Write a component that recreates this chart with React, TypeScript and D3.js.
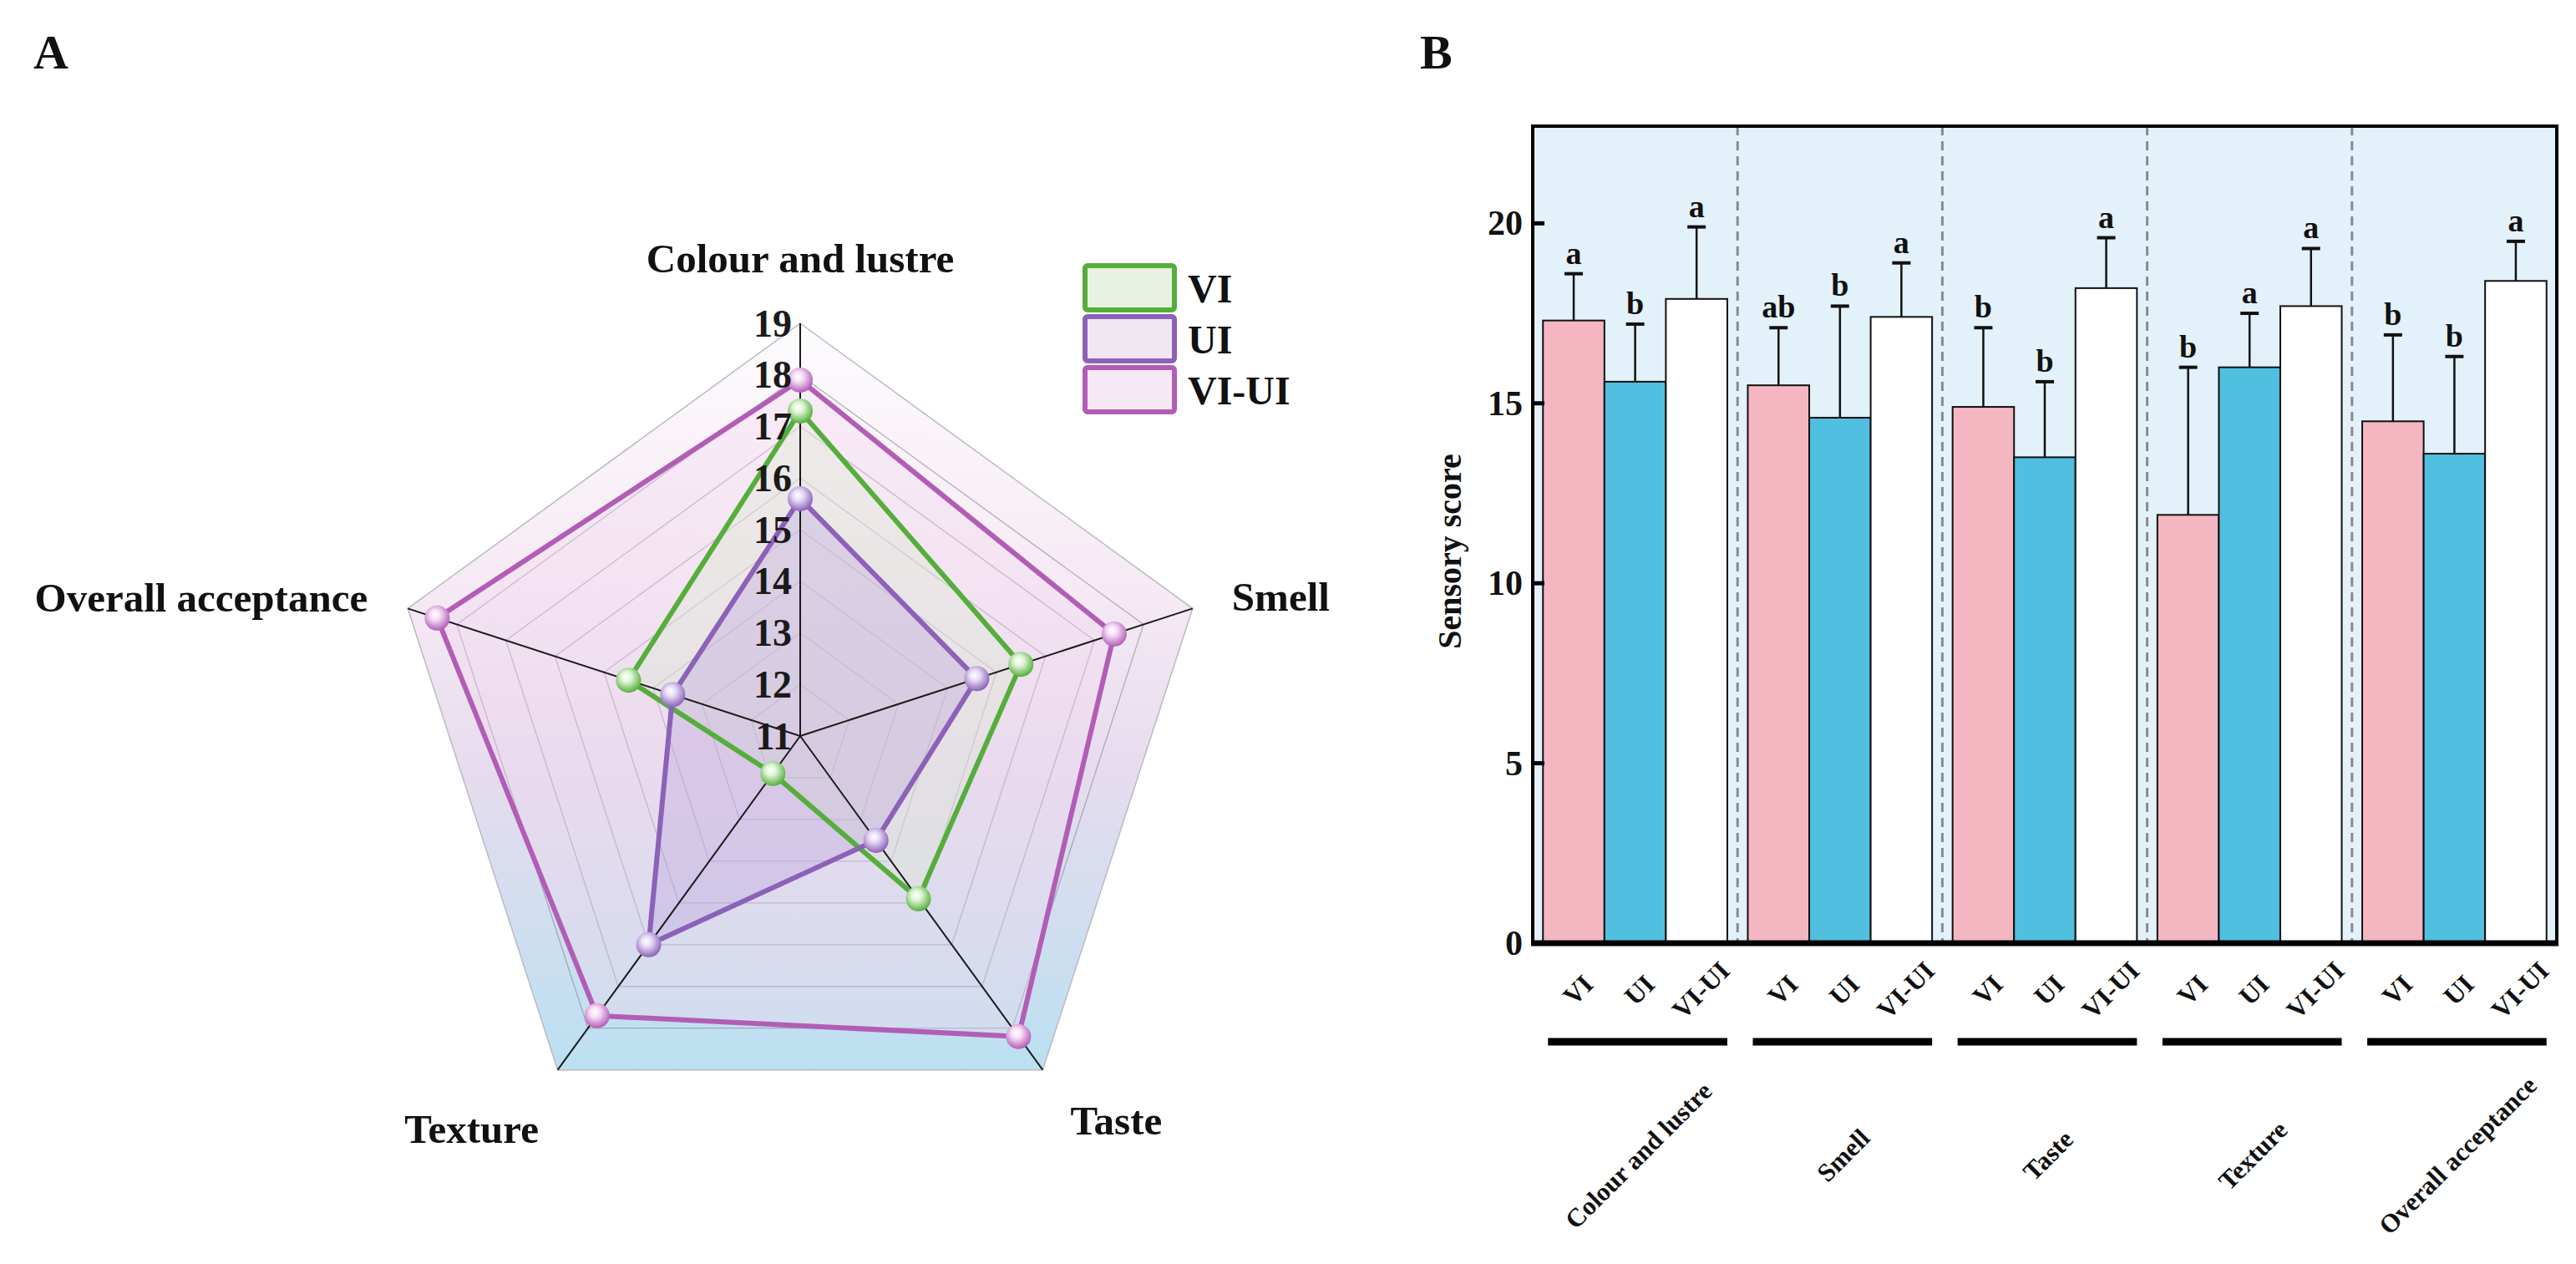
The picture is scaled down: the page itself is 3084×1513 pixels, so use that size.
import * as d3 from "d3";
import React from "react";

const categories = ["Colour and lustre", "Smell", "Taste", "Texture", "Overall acceptance"];
const treatments = ["VI", "UI", "VI-UI"];

const viMean = [17.3, 15.5, 14.9, 11.9, 14.5];
const uiMean = [15.6, 14.6, 13.5, 16.0, 13.6];
const viuiMean = [17.9, 17.4, 18.2, 17.7, 18.4];

const viSd = [1.3, 1.6, 2.2, 4.1, 2.4];
const uiSd = [1.6, 3.1, 2.1, 1.5, 2.7];
const viuiSd = [2.0, 1.5, 1.4, 1.6, 1.1];

const viLetters = ["a", "ab", "b", "b", "b"];
const uiLetters = ["b", "b", "b", "a", "b"];
const viuiLetters = ["a", "a", "a", "a", "a"];

const radarTicks = [11, 12, 13, 14, 15, 16, 17, 18, 19];
const barTicks = [0, 5, 10, 15, 20];

const FONT = "'Liberation Serif', 'Times New Roman', serif";

const radarSeries = [
  { name: "VI-UI", values: viuiMean, color: "#b25db5", fill: "#f0d6ee", light: "#f7dcf6" },
  { name: "VI", values: viMean, color: "#55ae3b", fill: "#d9ecd2", light: "#dff5d6" },
  { name: "UI", values: uiMean, color: "#8b62b8", fill: "#b9a3dc", light: "#e6dcf6" },
];

const legendItems = [
  { name: "VI", color: "#55ae3b", fill: "#e9f1e4" },
  { name: "UI", color: "#8b62b8", fill: "#f1e7f3" },
  { name: "VI-UI", color: "#b25db5", fill: "#f6e8f4" },
];

// label placement around the radar vertices: dx, dy (baseline), anchor
const radarLabelPos: [number, number, string][] = [
  [0, -61, "middle"],
  [47, 3, "start"],
  [88, 77, "middle"],
  [-103, 87, "middle"],
  [-48, 4, "end"],
];

const Radar: React.FC = () => {
  const cx = 958;
  const cy = 881;
  const R = 494;
  const n = categories.length;
  const ang = (i: number) => (i * 2 * Math.PI) / n;
  const r = d3.scaleLinear().domain([11, 19]).range([0, R]);

  const ring = (v: number) =>
    d3
      .lineRadial<number>()
      .angle((_, i) => ang(i))
      .radius(() => r(v))
      .curve(d3.curveLinearClosed)(categories.map(() => v)) as string;

  const seriesPath = d3
    .lineRadial<number>()
    .angle((_, i) => ang(i))
    .radius((d) => r(d))
    .curve(d3.curveLinearClosed);

  return (
    <g transform={`translate(${cx},${cy})`}>
      <defs>
        <linearGradient id="radarBg" x1="0" y1={-R} x2="0" y2={R * 0.81} gradientUnits="userSpaceOnUse">
          <stop offset="0" stopColor="#fdfbfd" />
          <stop offset="0.35" stopColor="#f6eaf4" />
          <stop offset="0.6" stopColor="#e6dcee" />
          <stop offset="1" stopColor="#bbe0f1" />
        </linearGradient>
        {radarSeries.map((s) => (
          <radialGradient key={s.name} id={`ball-${s.name}`} cx="0.45" cy="0.4" r="0.6" fx="0.4" fy="0.35">
            <stop offset="0" stopColor="#ffffff" />
            <stop offset="0.35" stopColor={s.light} />
            <stop offset="1" stopColor={s.color} />
          </radialGradient>
        ))}
      </defs>
      <path d={ring(19)} fill="url(#radarBg)" stroke="#b9b9c4" strokeWidth={1.5} />
      {radarTicks.slice(1, -1).map((v) => (
        <path key={v} d={ring(v)} fill="none" stroke="#7f7890" strokeOpacity={0.55} strokeWidth={1.3} />
      ))}
      {radarSeries.map((s) => (
        <path key={s.name} d={seriesPath(s.values) as string} fill={s.fill} fillOpacity={0.35} stroke="none" />
      ))}
      {categories.map((c, i) => {
        const [x, y] = d3.pointRadial(ang(i), R);
        return <line key={c} x1={0} y1={0} x2={x} y2={y} stroke="#1a1a1a" strokeWidth={2} />;
      })}
      {radarSeries.map((s) => (
        <path key={s.name} d={seriesPath(s.values) as string} fill="none" stroke={s.color} strokeWidth={6} strokeLinejoin="round" />
      ))}
      {radarSeries.map((s) =>
        s.values.map((v, i) => {
          const [x, y] = d3.pointRadial(ang(i), r(v));
          return <circle key={s.name + i} cx={x} cy={y} r={15} fill={`url(#ball-${s.name})`} />;
        })
      )}
      {radarTicks.map((v) => (
        <text
          key={v}
          x={-10}
          y={-r(v)}
          textAnchor="end"
          dominantBaseline="central"
          fontFamily={FONT}
          fontWeight="bold"
          fontSize={46}
          fill="#1a1a1a"
        >
          {v}
        </text>
      ))}
      {categories.map((c, i) => {
        const [x, y] = d3.pointRadial(ang(i), R);
        const [dx, dy, anchor] = radarLabelPos[i];
        return (
          <text
            key={c}
            x={x + dx}
            y={y + dy}
            textAnchor={anchor as any}
            fontFamily={FONT}
            fontWeight="bold"
            fontSize={49}
            fill="#111"
          >
            {c}
          </text>
        );
      })}
    </g>
  );
};

const Legend: React.FC = () => {
  const x = 1299;
  const y0 = 318;
  const step = 61;
  return (
    <g>
      {legendItems.map((d, i) => (
        <g key={d.name} transform={`translate(${x},${y0 + i * step})`}>
          <rect x={0} y={0} width={107} height={53} rx={3} fill={d.fill} stroke={d.color} strokeWidth={6} />
          <text x={123} y={27} dominantBaseline="central" fontFamily={FONT} fontWeight="bold" fontSize={48} fill="#111">
            {d.name}
          </text>
        </g>
      ))}
    </g>
  );
};

const Bars: React.FC = () => {
  const left = 1835;
  const right = 3061;
  const top = 151;
  const bottom = 1129;

  const x0 = d3.scaleBand().domain(categories).range([left, right]).paddingInner(0.1).paddingOuter(0.05);
  const x1 = d3.scaleBand().domain(treatments).range([0, x0.bandwidth()]);
  const y = d3.scaleLinear().domain([0, 22.7]).range([bottom, top]);

  const means = [viMean, uiMean, viuiMean];
  const sds = [viSd, uiSd, viuiSd];
  const letters = [viLetters, uiLetters, viuiLetters];
  const fills = ["#f4b7c1", "#51bfdf", "#ffffff"];

  const gap = x0.step() - x0.bandwidth();

  return (
    <g>
      <rect x={left} y={top} width={right - left} height={bottom - top} fill="#e3f1fa" />
      {categories.slice(0, -1).map((c) => {
        const sx = (x0(c) as number) + x0.bandwidth() + gap / 2;
        return (
          <line key={c} x1={sx} x2={sx} y1={top} y2={bottom} stroke="#8a8a8a" strokeWidth={3} strokeDasharray="11 7" />
        );
      })}
      {categories.map((c, ci) =>
        treatments.map((t, ti) => {
          const bx = (x0(c) as number) + (x1(t) as number);
          const m = means[ti][ci];
          return (
            <rect
              key={c + t}
              x={bx}
              y={y(m)}
              width={x1.bandwidth()}
              height={bottom - y(m)}
              fill={fills[ti]}
              stroke="#111"
              strokeWidth={2}
            />
          );
        })
      )}
      {categories.map((c, ci) =>
        treatments.map((t, ti) => {
          const mx = (x0(c) as number) + (x1(t) as number) + x1.bandwidth() / 2;
          const m = means[ti][ci];
          const e = m + sds[ti][ci];
          return (
            <g key={c + t + "e"}>
              <line x1={mx} x2={mx} y1={y(m)} y2={y(e)} stroke="#111" strokeWidth={2.5} />
              <line x1={mx - 11} x2={mx + 11} y1={y(e)} y2={y(e)} stroke="#111" strokeWidth={4} />
              <text
                x={mx}
                y={y(e) - 12}
                textAnchor="middle"
                fontFamily={FONT}
                fontWeight="bold"
                fontSize={38}
                fill="#111"
              >
                {letters[ti][ci]}
              </text>
            </g>
          );
        })
      )}
      {/* frame */}
      <line x1={left} x2={left} y1={top - 2} y2={bottom} stroke="#000" strokeWidth={4} />
      <line x1={left} x2={right} y1={top} y2={top} stroke="#000" strokeWidth={4} />
      <line x1={right} x2={right} y1={top - 2} y2={bottom} stroke="#000" strokeWidth={4} />
      <line x1={left - 2} x2={right + 2} y1={bottom} y2={bottom} stroke="#000" strokeWidth={7} />
      {barTicks.map((t) => (
        <g key={t}>
          <line x1={left} x2={left + 14} y1={y(t)} y2={y(t)} stroke="#000" strokeWidth={5} />
          <text
            x={left - 12}
            y={y(t)}
            textAnchor="end"
            dominantBaseline="central"
            fontFamily={FONT}
            fontWeight="bold"
            fontSize={42}
            fill="#111"
          >
            {t}
          </text>
        </g>
      ))}
      <text
        transform={`translate(${left - 100},${(top + bottom) / 2 + 20}) rotate(-90)`}
        textAnchor="middle"
        dominantBaseline="central"
        fontFamily={FONT}
        fontWeight="bold"
        fontSize={40}
        fill="#111"
      >
        Sensory score
      </text>
      {categories.map((c) =>
        treatments.map((t) => {
          const mx = (x0(c) as number) + (x1(t) as number) + x1.bandwidth() / 2 + 5;
          return (
            <text
              key={c + t + "l"}
              transform={`translate(${mx},${bottom + 56}) rotate(-45)`}
              textAnchor="middle"
              dominantBaseline="central"
              fontFamily={FONT}
              fontWeight="bold"
              fontSize={32}
              fill="#111"
            >
              {t}
            </text>
          );
        })
      )}
      {categories.map((c) => {
        const gx = x0(c) as number;
        return (
          <line key={c + "u"} x1={gx + 6} x2={gx + x0.bandwidth()} y1={bottom + 118} y2={bottom + 118} stroke="#000" strokeWidth={9} />
        );
      })}
      {categories.map((c) => {
        const gx = (x0(c) as number) + x0.bandwidth() / 2 + 4;
        return (
          <text
            key={c + "g"}
            transform={`translate(${gx},${bottom + 254}) rotate(-45)`}
            textAnchor="middle"
            dominantBaseline="central"
            fontFamily={FONT}
            fontWeight="bold"
            fontSize={31}
            fill="#111"
          >
            {c}
          </text>
        );
      })}
    </g>
  );
};

const App: React.FC = () => {
  return (
    <svg
      width={3084}
      height={1513}
      viewBox="0 0 3084 1513"
      style={{ position: "absolute", left: 0, top: 0, background: "#fff" }}
    >
      <rect width={3084} height={1513} fill="#fff" />
      <text x={40} y={82} fontFamily={FONT} fontWeight="bold" fontSize={58} fill="#111">
        A
      </text>
      <text x={1700} y={82} fontFamily={FONT} fontWeight="bold" fontSize={58} fill="#111">
        B
      </text>
      <Radar />
      <Legend />
      <Bars />
    </svg>
  );
};

export default App;
